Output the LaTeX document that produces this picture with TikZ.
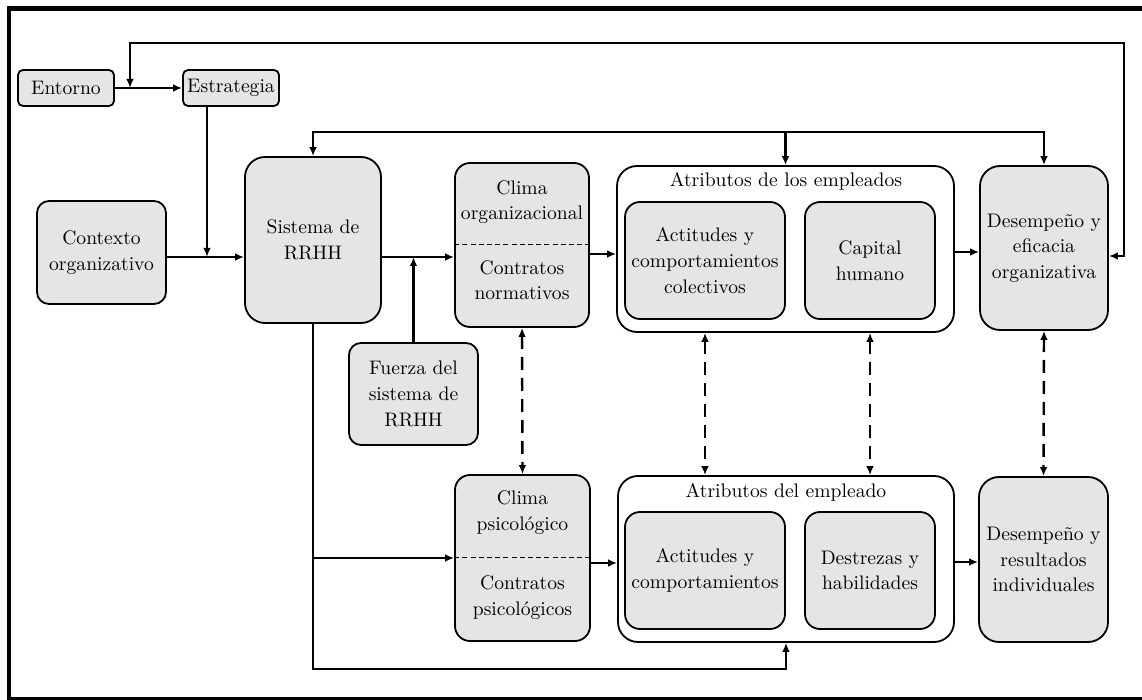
\documentclass[tikz,border=0pt]{standalone}
\usepackage{fontspec}
\usetikzlibrary{arrows.meta,calc}

\tikzset{
  box/.style={draw=black, line width=0.9pt, fill=black!10, align=center,
              inner sep=0pt, rounded corners=#1},
  box/.default=10pt,
  group/.style={draw=black, line width=0.9pt, fill=white, inner sep=0pt,
                rounded corners=10pt},
  label/.style={align=center, inner sep=0pt},
  conn/.style={line width=1.1pt, arrows={-Latex[length=4.5pt,width=3.8pt]}},
  bothconn/.style={line width=1.1pt, arrows={Latex[length=4.5pt,width=3.8pt]-Latex[length=4.5pt,width=3.8pt]}},
  dconn/.style={line width=1.2pt, dash pattern=on 6.5pt off 4pt,
                arrows={Latex[length=4.5pt,width=3.8pt]-Latex[length=4.5pt,width=3.8pt]}},
  divider/.style={line width=0.5pt, dash pattern=on 2.5pt off 1.6pt},
}

\begin{document}
\begin{tikzpicture}[x=0.5pt, y=-0.5pt, font=\fontsize{9.8}{12.8}\selectfont]
\useasboundingbox (0,0) rectangle (1142,700);
\clip (0,0) rectangle (1142,700);

% outer frame (open to the right)
\draw[line width=2.3pt] (1160,8.5) -- (9,8.5) -- (9,699) -- (1160,699);

% ---- top left: environment and strategy
\node[box=2.5pt, minimum width=48pt, minimum height=18pt] (entorno) at (66,88) {Entorno};
\node[box=2.5pt, minimum width=48pt, minimum height=18pt] (estrategia) at (231,88) {Estrategia};

% ---- left column
\node[box=6pt, minimum width=64.5pt, minimum height=51.5pt] (contexto) at (101.5,252.5) {Contexto\\organizativo};
\node[box=10pt, minimum width=68pt, minimum height=83pt] (sistema) at (313,240) {Sistema de\\RRHH};
\node[box=6pt, minimum width=64.5pt, minimum height=51pt] (fuerza) at (413.5,394) {Fuerza del\\sistema de\\RRHH};

% ---- climate / contract boxes
\node[box=7.5pt, minimum width=67pt, minimum height=82pt] (climaorg) at (522,245) {};
\draw[divider] (climaorg.west) -- (climaorg.east);
\node[label] (climaorgtop) at (522,202) {Clima\\organizacional};
\node[label] (climaorgbot) at (522,280) {Contratos\\normativos};

\node[box=7.5pt, minimum width=67.5pt, minimum height=83pt] (climapsi) at (522.5,558) {};
\draw[divider] (climapsi.west) -- (climapsi.east);
\node[label] (climapsitop) at (522.5,512.5) {Clima\\psicológico};
\node[label] (climapsibot) at (522.5,597.5) {Contratos\\psicológicos};

% ---- employee attribute groups
\node[group, minimum width=168.5pt, minimum height=83pt] (group1) at (785.5,249) {};
\node[label] (title1) at (786,181) {Atributos de los empleados};
\node[box=7.5pt, minimum width=80pt, minimum height=58.5pt] (actcol) at (705,260.5) {Actitudes y\\comportamientos\\colectivos};
\node[box=7.5pt, minimum width=65pt, minimum height=58.5pt] (capital) at (870,260.5) {Capital\\humano};

\node[group, minimum width=168pt, minimum height=83pt] (group2) at (786,559) {};
\node[label] (title2) at (786,492) {Atributos del empleado};
\node[box=7.5pt, minimum width=80pt, minimum height=58.5pt] (actind) at (705,570.5) {Actitudes y\\comportamientos};
\node[box=7.5pt, minimum width=65pt, minimum height=58.5pt] (destrezas) at (870,570.5) {Destrezas y\\habilidades};

% ---- outcomes
\node[box=10pt, minimum width=64pt, minimum height=82pt] (desorg) at (1044,248) {Desempeño y\\eficacia\\organizativa};
\node[box=10pt, minimum width=64.5pt, minimum height=82.5pt] (desind) at (1043.5,559.5) {Desempeño y\\resultados\\individuales};

% ---- junction points
\coordinate (j1) at (130,88);
\coordinate (j2) at (207,257);
\coordinate (r1) at (0,252);

% ---- connectors
\draw[conn] (entorno.east) -- (estrategia.west);
\draw[bothconn] (j1) |- (1124,43) |- ($(desorg.east)+(0,8)$);
\draw[conn] (estrategia.south -| j2) -- (j2);
\draw[conn] (contexto.east |- j2) -- (sistema.west |- j2);
\draw[conn] (sistema.east |- j2) -- (climaorg.west |- j2);
\draw[conn] (fuerza.north) -- (fuerza.north |- j2);
\draw[bothconn] (sistema.north) -- ++(0,-24) -| (desorg.north);
\draw[conn] ($(group1.north)+(0,-33)$) -- (group1.north);
\draw[conn] ($(climaorg.east)+(0,9)$) -- (group1.west |- {$(climaorg.east)+(0,9)$});
\draw[conn] (group1.east |- r1) -- (desorg.west |- r1);

\draw[dconn] (climaorg.south) -- (climapsi.north);
\draw[dconn] (group1.south -| actcol) -- (group2.north -| actcol);
\draw[dconn] (group1.south -| capital) -- (group2.north -| capital);
\draw[dconn] (desorg.south) -- (desind.north);

\draw[conn] (sistema.south) -- ++(0,345) -| (group2.south);
\draw[conn] (sistema.south |- climapsi.west) -- (climapsi.west);
\draw[conn] ($(climapsi.east)+(0,5)$) -- (group2.west |- {$(climapsi.east)+(0,5)$});
\draw[conn] ($(group2.east)+(0,3)$) -- (desind.west |- {$(group2.east)+(0,3)$});
\end{tikzpicture}
\end{document}
